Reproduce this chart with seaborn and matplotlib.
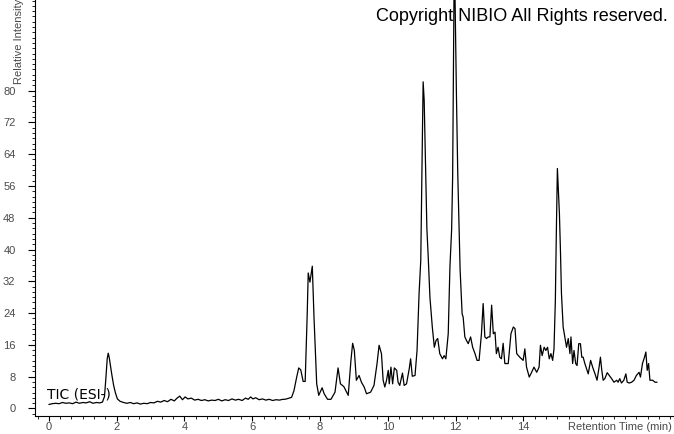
import matplotlib
matplotlib.use("Agg")
import matplotlib.pyplot as plt
from matplotlib.ticker import AutoMinorLocator
import seaborn as sns
import pandas as pd

# ---- data ----
retention_time = [
    0.00, 0.10, 0.20, 0.30, 0.40, 0.50, 0.60, 0.70, 0.80, 0.90, 1.00, 1.10, 1.20, 1.30, 1.40, 1.50,
    1.58, 1.64, 1.68, 1.72, 1.75, 1.78, 1.82, 1.86, 1.91, 1.96, 2.02, 2.10, 2.20, 2.30, 2.40, 2.50,
    2.60, 2.70, 2.80, 2.90, 3.00, 3.10, 3.20, 3.30, 3.40, 3.50, 3.60, 3.70, 3.78, 3.86, 3.94, 4.02,
    4.10, 4.20, 4.30, 4.40, 4.50, 4.60, 4.70, 4.80, 4.90, 5.00, 5.10, 5.20, 5.30, 5.40, 5.50, 5.60,
    5.70, 5.80, 5.88, 5.95, 6.02, 6.10, 6.20, 6.30, 6.40, 6.50, 6.60, 6.70, 6.80, 6.90, 6.96, 7.05,
    7.16, 7.23, 7.31, 7.37, 7.43, 7.50, 7.56, 7.62, 7.65, 7.70, 7.77, 7.82, 7.90, 7.96, 8.06, 8.12,
    8.22, 8.32, 8.44, 8.53, 8.60, 8.70, 8.83, 8.91, 8.96, 9.01, 9.07, 9.15, 9.22, 9.30, 9.37, 9.49,
    9.59, 9.68, 9.74, 9.81, 9.86, 9.91, 9.96, 10.01, 10.04, 10.09, 10.14, 10.19, 10.26, 10.30, 10.35, 10.43,
    10.48, 10.55, 10.63, 10.67, 10.72, 10.80, 10.86, 10.92, 10.97, 10.99, 11.02, 11.04, 11.07, 11.11, 11.15, 11.19,
    11.24, 11.31, 11.37, 11.42, 11.47, 11.53, 11.61, 11.66, 11.71, 11.78, 11.83, 11.88, 11.91, 11.95, 11.98, 12.02,
    12.06, 12.10, 12.13, 12.19, 12.22, 12.27, 12.32, 12.37, 12.44, 12.50, 12.57, 12.63, 12.69, 12.76, 12.81, 12.86,
    12.91, 12.96, 13.01, 13.06, 13.11, 13.16, 13.20, 13.25, 13.30, 13.35, 13.40, 13.45, 13.55, 13.63, 13.70, 13.75,
    13.80, 13.89, 13.99, 14.04, 14.09, 14.17, 14.24, 14.31, 14.39, 14.46, 14.50, 14.55, 14.61, 14.66, 14.71, 14.76,
    14.81, 14.86, 14.90, 14.94, 14.97, 15.00, 15.02, 15.06, 15.09, 15.12, 15.17, 15.22, 15.27, 15.32, 15.37, 15.40,
    15.45, 15.49, 15.54, 15.58, 15.63, 15.68, 15.72, 15.76, 15.81, 15.86, 15.91, 15.98, 16.04, 16.11, 16.17, 16.23,
    16.27, 16.31, 16.35, 16.40, 16.47, 16.53, 16.60, 16.67, 16.75, 16.79, 16.84, 16.89, 16.96, 17.02, 17.06, 17.12,
    17.19, 17.26, 17.33, 17.41, 17.45, 17.51, 17.57, 17.61, 17.65, 17.69, 17.73, 17.81, 17.88, 17.94,
]
relative_intensity = [
    1.0, 1.2, 1.3, 1.2, 1.5, 1.3, 1.4, 1.2, 1.6, 1.3, 1.5, 1.4, 1.7, 1.3, 1.5, 1.4,
    1.6, 3.0, 7.5, 12.5, 13.9, 12.8, 10.5, 8.3, 5.8, 4.0, 2.4, 1.8, 1.5, 1.3, 1.5, 1.2,
    1.4, 1.1, 1.3, 1.2, 1.5, 1.4, 1.8, 1.6, 2.0, 1.7, 2.3, 1.9, 2.6, 3.1, 2.2, 2.9,
    2.4, 2.6, 2.1, 2.3, 2.0, 2.2, 1.9, 2.1, 2.0, 2.3, 1.9, 2.2, 2.0, 2.4, 2.1, 2.3,
    2.0, 2.6, 2.3, 2.9, 2.4, 2.7, 2.2, 2.4, 2.1, 2.3, 2.0, 2.2, 2.1, 2.3, 2.3, 2.5,
    2.8, 4.5, 7.9, 10.2, 9.7, 6.8, 6.8, 23.8, 34.1, 31.8, 35.8, 23.0, 6.2, 3.3, 5.2, 3.7,
    2.3, 2.3, 4.1, 10.2, 6.2, 5.5, 3.3, 12.1, 16.4, 14.6, 7.1, 8.3, 6.6, 5.4, 3.7, 4.1,
    5.8, 11.3, 15.9, 13.8, 7.1, 5.4, 7.1, 9.6, 6.2, 10.4, 6.2, 10.2, 9.6, 6.6, 5.8, 8.9,
    5.8, 6.2, 10.0, 12.5, 8.1, 8.3, 14.6, 28.9, 37.3, 51.1, 70.0, 82.2, 77.6, 61.7, 45.3, 38.1,
    28.0, 20.5, 15.4, 17.1, 17.6, 13.8, 12.5, 13.3, 12.5, 18.8, 35.6, 45.0, 58.3, 104.0, 104.0, 80.0,
    59.5, 46.1, 35.0, 23.8, 23.0, 18.0, 17.1, 16.3, 18.0, 15.4, 13.8, 12.1, 12.1, 18.8, 26.4, 18.0,
    17.6, 18.0, 18.0, 26.0, 18.8, 19.2, 13.8, 15.4, 12.9, 12.5, 16.4, 11.3, 11.3, 18.8, 20.5, 20.1,
    13.8, 12.9, 12.1, 15.0, 10.4, 7.9, 9.1, 10.4, 9.1, 10.4, 15.9, 13.3, 15.4, 14.6, 15.4, 12.5,
    13.8, 12.1, 15.0, 27.2, 44.8, 60.4, 56.6, 49.0, 39.8, 29.0, 20.5, 18.0, 15.4, 17.6, 13.8, 18.0,
    11.3, 14.6, 11.3, 10.8, 16.3, 16.3, 12.9, 12.9, 11.3, 10.0, 8.7, 12.1, 10.4, 8.7, 7.1, 10.4,
    12.9, 9.6, 7.1, 7.5, 9.0, 8.3, 7.5, 6.6, 7.1, 6.6, 7.5, 6.4, 7.1, 8.7, 6.6, 6.4,
    6.6, 7.1, 8.3, 9.1, 7.9, 11.3, 12.9, 14.2, 9.6, 11.3, 7.1, 7.1, 6.6, 6.6,
]
x_ticks = [0, 2, 4, 6, 8, 10, 12, 14]
y_ticks = [0, 8, 16, 24, 32, 40, 48, 56, 64, 72, 80]
x_label = "Retention Time (min)"
y_label = "Relative Intensity"
trace_label = "TIC (ESI-)"
copyright_text = "Copyright NIBIO All Rights reserved."

df = pd.DataFrame({"t": retention_time, "v": relative_intensity})

sns.set_style("white")
plt.rcParams["font.family"] = ["Liberation Sans", "DejaVu Sans"]

fig = plt.figure(figsize=(6.74, 4.34), dpi=100)
ax = fig.add_axes([35 / 674, 18 / 434, 1 - 35 / 674, 1 - 18 / 434])

sns.lineplot(data=df, x="t", y="v", ax=ax, color="black", linewidth=0.9,
             estimator=None, sort=False)

ax.set_xlim(-0.41, 18.44)
ax.set_ylim(-1.9, 102.8)
ax.set_xticks(x_ticks)
ax.set_yticks(y_ticks)
ax.xaxis.set_minor_locator(AutoMinorLocator(6))
ax.yaxis.set_minor_locator(AutoMinorLocator(6))
ax.set_xlabel("")
ax.set_ylabel("")

for s in ["top", "right"]:
    ax.spines[s].set_visible(False)
for s in ["left", "bottom"]:
    ax.spines[s].set_color("black")
    ax.spines[s].set_linewidth(0.8)

ax.tick_params(axis="both", which="major", direction="out", length=5, width=0.8,
               color="black", labelsize=8, labelcolor="#4a4a4a", bottom=True, left=True)
ax.tick_params(axis="both", which="minor", direction="out", length=2.5, width=0.6,
               color="black", bottom=True, left=True)
ax.tick_params(axis="y", which="major", pad=9)
ax.tick_params(axis="x", which="major", length=3.5, pad=0.5)

# axis titles placed as in the reference
fig.text(672 / 674, (434 - 427) / 434, x_label, ha="right", va="center",
         fontsize=8, color="#4a4a4a")
fig.text(19 / 674, (434 - 84) / 434, y_label, ha="center", va="bottom",
         rotation=90, fontsize=8, color="#4a4a4a")

ax.text(-0.06, 2.6, trace_label, ha="left", va="baseline", fontsize=10,
        color="black", family=["DejaVu Sans"])

fig.text(668 / 674, (434 - 21) / 434, copyright_text, ha="right", va="baseline",
         fontsize=13, color="black")

fig.savefig("out.png", dpi=100)
